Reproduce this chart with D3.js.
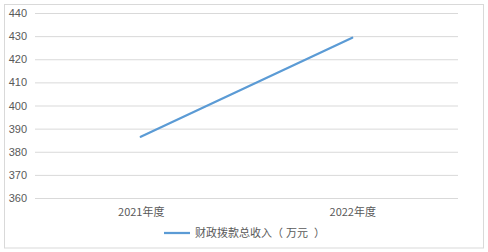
<!DOCTYPE html>
<html>
<head>
<meta charset="utf-8">
<script src="https://cdn.jsdelivr.net/npm/d3@7"></script>
<style>
  body { margin: 0; background: #fff; }
  text { font-family: "Noto Sans CJK SC", "Liberation Sans", sans-serif; fill: #595959; }
</style>
</head>
<body>
<svg width="488" height="252"></svg>
<script>
const categories = ['2021年度', '2022年度']
const values = [386.5, 429.3]
const seriesName = ['财政拨款总收入（', '万元', '）']
const yTicks = [360, 370, 380, 390, 400, 410, 420, 430, 440]

const svg = d3.select('svg')
const width = +svg.attr('width')
const height = +svg.attr('height')

// chart frame
svg.append('rect')
    .attr('x', 4.5).attr('y', 4.5)
    .attr('width', 479).attr('height', 243.5)
    .attr('fill', '#fff')
    .attr('stroke', '#d9d9d9')

const margin = {top: 13, right: 30, bottom: 54, left: 35}
const innerWidth = width - margin.left - margin.right
const innerHeight = height - margin.top - margin.bottom

const xScale = d3.scalePoint()
    .domain(categories)
    .range([0, innerWidth])
    .padding(0.5)

const yScale = d3.scaleLinear()
    .domain([360, 440])
    .range([innerHeight, 0])

const g = svg.append('g')
    .attr('transform', `translate(${margin.left}, ${margin.top})`)

// gridlines + y labels
const yAxis = d3.axisLeft(yScale)
    .tickValues(yTicks)
    .tickSize(-innerWidth)
    .tickPadding(8)
const yg = g.append('g').call(yAxis)
yg.select('.domain').remove()
yg.selectAll('line').attr('stroke', '#d9d9d9')
yg.selectAll('text').attr('font-size', 11).style('font-family', '"Liberation Sans", sans-serif')

// x labels
const xAxis = d3.axisBottom(xScale).tickSize(0).tickPadding(10)
const xg = g.append('g')
    .attr('transform', `translate(0, ${innerHeight})`)
    .call(xAxis)
xg.select('.domain').remove()
xg.selectAll('text').attr('font-size', 11)

// the series
const line = d3.line()
    .x((d, i) => xScale(categories[i]))
    .y(d => yScale(d))
g.append('path')
    .datum(values)
    .attr('fill', 'none')
    .attr('stroke', '#5b9bd5')
    .attr('stroke-width', 2.25)
    .attr('stroke-linecap', 'round')
    .attr('d', line)

// legend
const legend = svg.append('g').attr('transform', 'translate(164, 233)')
legend.append('line')
    .attr('x1', 0).attr('x2', 26)
    .attr('stroke', '#5b9bd5').attr('stroke-width', 2.25)
const lt = legend.append('text')
    .attr('x', 31).attr('y', 4)
    .attr('font-size', 11)
lt.selectAll('tspan').data(seriesName).enter().append('tspan')
    .attr('dx', (d, i) => [0, 3, 6][i])
    .text(d => d)
</script>
</body>
</html>
